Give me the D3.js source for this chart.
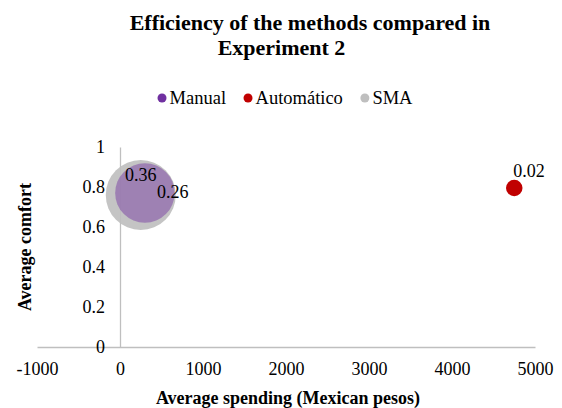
<!DOCTYPE html>
<html><head><meta charset="utf-8">
<script src="https://cdn.jsdelivr.net/npm/d3@7"></script>
<style>
body{margin:0;background:#fff}
</style>
</head><body>
<svg id="c" width="562" height="408"></svg>
<script>
// ---- data ----
const series   = ["Manual", "Automático", "SMA"];
const spending = [300, 4750, 250];
const comfort  = [0.77, 0.795, 0.76];
const sizes    = [0.26, 0.02, 0.36];
const labels   = ["0.26", "0.02", "0.36"];
const xTicks   = [-1000, 0, 1000, 2000, 3000, 4000, 5000];
const yTicks   = [0, 0.2, 0.4, 0.6, 0.8, 1];
const titleLines = ["Efficiency of the methods compared in", "Experiment 2"];
const xTitle = "Average spending (Mexican pesos)";
const yTitle = "Average comfort";

// ---- styles ----
const FONT = "Liberation Serif";
const colors = ["#7030A0", "#C00000", "#BFBFBF"];
const fillOpacity = [0.45, 1, 0.92];
const labelStyle = [
  {dx: 12, dy: 5, anchor: "start"},
  {dx: -1, dy: -11, anchor: "start"},
  {dx: 0, dy: -14, anchor: "middle"}
];
const axisColor = "#BFBFBF";

const svg = d3.select("#c");
const txt = (sel, size, bold) => {
  sel.attr("font-family", FONT).attr("font-size", size).attr("fill", "#000");
  if (bold) sel.attr("font-weight", "bold");
  return sel;
};

const x = d3.scaleLinear().domain([-1000, 5000]).range([37, 535]);
const y = d3.scaleLinear().domain([0, 1]).range([347, 147]);
const r = d3.scaleSqrt().domain([0, 0.36]).range([0, 35]);

// title
txt(svg.append("text").attr("x", 310).attr("y", 30).attr("text-anchor", "middle"), 22, true).text(titleLines[0]);
txt(svg.append("text").attr("x", 281.5).attr("y", 55).attr("text-anchor", "middle"), 22, true).text(titleLines[1]);

// legend
const leg = svg.append("g");
let cur = 0;
series.forEach((s, i) => {
  const g = leg.append("g").attr("transform", `translate(${cur},0)`);
  g.append("circle").attr("cx", 4.5).attr("cy", 98).attr("r", 4.5).attr("fill", colors[i]);
  const t = txt(g.append("text").attr("x", 12).attr("y", 104), 18.5, false).text(s);
  cur += 12 + t.node().getComputedTextLength() + 17.5;
});
const legW = cur - 17.5;
leg.attr("transform", `translate(${285 - legW / 2},0)`);

// axes
const xAxis = d3.axisBottom(x).tickValues(xTicks).tickSize(0).tickPadding(15).tickFormat(d => String(d));
const gx = svg.append("g").attr("transform", `translate(0,${y(0)})`).call(xAxis);
const yAxis = d3.axisLeft(y).tickValues(yTicks).tickSize(0).tickPadding(15).tickFormat(d => String(d));
const gy = svg.append("g").attr("transform", `translate(${x(0)},0)`).call(yAxis);
[gx, gy].forEach(g => {
  g.attr("font-family", FONT).attr("font-size", 18);
  g.select(".domain").attr("stroke", axisColor).attr("stroke-width", 1.3);
  txt(g.selectAll("text"), 18, false);
});

// axis titles
txt(svg.append("text").attr("x", 288).attr("y", 404).attr("text-anchor", "middle"), 18, true).text(xTitle);
txt(svg.append("text").attr("transform", "translate(31,247) rotate(-90)").attr("text-anchor", "middle"), 18, true).text(yTitle);

// bubbles, larger drawn first
const idx = d3.range(series.length).sort((a, b) => sizes[b] - sizes[a]);
svg.append("g").selectAll("circle").data(idx).join("circle")
  .attr("cx", i => x(spending[i])).attr("cy", i => y(comfort[i]))
  .attr("r", i => r(sizes[i]))
  .attr("fill", i => colors[i]).attr("fill-opacity", i => fillOpacity[i]);

// data labels
txt(svg.append("g").selectAll("text").data(idx).join("text")
  .attr("x", i => x(spending[i]) + labelStyle[i].dx)
  .attr("y", i => y(comfort[i]) + labelStyle[i].dy)
  .attr("text-anchor", i => labelStyle[i].anchor), 18, false)
  .text(i => labels[i]);
</script>
</body></html>
